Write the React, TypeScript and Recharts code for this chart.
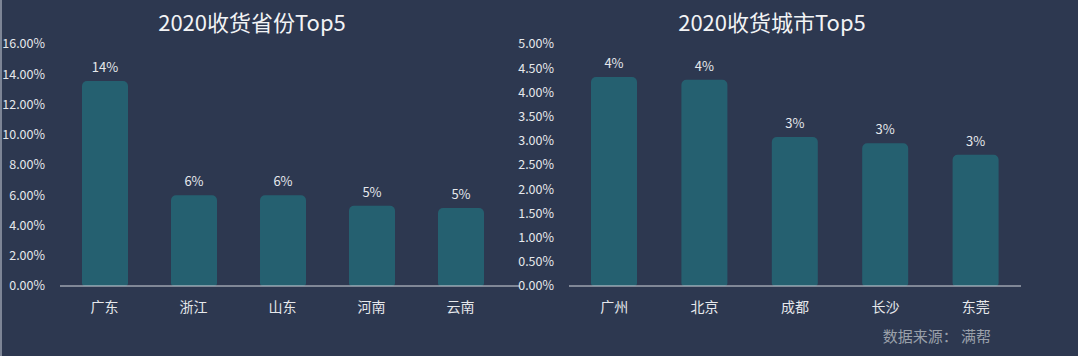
import { BarChart, Bar, XAxis, YAxis, LabelList } from 'recharts';

const provinces = ['广东', '浙江', '山东', '河南', '云南'];
const provinceShares = [13.55, 6.0, 6.0, 5.3, 5.15];
const provinceTicks = [0, 2, 4, 6, 8, 10, 12, 14, 16];

const cities = ['广州', '北京', '成都', '长沙', '东莞'];
const cityShares = [4.32, 4.26, 3.08, 2.95, 2.71];
const cityTicks = [0, 0.5, 1, 1.5, 2, 2.5, 3, 3.5, 4, 4.5, 5];

const BG = '#2d3850';
const BAR = '#256070';
const TEXT = '#e6e8ec';
const FONT = '"Noto Sans CJK SC", "Noto Sans", sans-serif';

const provinceData = provinces.map((name, i) => ({ name, value: provinceShares[i] }));
const cityData = cities.map((name, i) => ({ name, value: cityShares[i] }));

const pct2 = (v: number) => `${v.toFixed(2)}%`;
const pct0 = (v: number) => `${Math.round(v)}%`;

interface PanelProps {
  data: { name: string; value: number }[];
  ticks: number[];
  max: number;
  width: number;
  padRight: number;
}

function Panel({ data, ticks, max, width, padRight }: PanelProps) {
  return (
    <BarChart
      width={width}
      height={356}
      data={data}
      margin={{ top: 44, right: 10, left: 0, bottom: 40 }}
      style={{ fontFamily: FONT }}
    >
      <XAxis
        dataKey="name"
        height={30}
        tickLine={false}
        axisLine={{ stroke: '#d4d7dd', strokeWidth: 1 }}
        tick={{ fill: TEXT, fontSize: 14 }}
        tickMargin={10}
        padding={{ left: 0, right: padRight }}
      />
      <YAxis
        width={60}
        domain={[0, max]}
        ticks={ticks}
        tickFormatter={pct2}
        axisLine={false}
        tickLine={false}
        tickMargin={9}
        tick={{ fill: TEXT, fontSize: 12.5 }}
        interval={0}
      />
      <Bar dataKey="value" fill={BAR} barSize={46} radius={[5, 5, 3, 3]} isAnimationActive={false}>
        <LabelList dataKey="value" position="top" offset={9} formatter={pct0} fill={TEXT} fontSize={13} />
      </Bar>
    </BarChart>
  );
}

export default function App() {
  return (
    <div
      style={{
        position: 'fixed',
        left: 0,
        top: 0,
        width: 1078,
        height: 356,
        background: BG,
        fontFamily: FONT,
        overflow: 'hidden',
      }}
    >
      <div style={{ position: 'absolute', left: 0, top: 0, width: 2, height: 356, background: '#7d8596' }} />
      <div style={{ position: 'absolute', left: 0, top: 0 }}>
        <Panel data={provinceData} ticks={provinceTicks} max={16} width={530} padRight={15} />
      </div>
      <div style={{ position: 'absolute', left: 509, top: 0 }}>
        <Panel data={cityData} ticks={cityTicks} max={5} width={522} padRight={0} />
      </div>
      <div
        style={{
          position: 'absolute',
          left: 52,
          width: 400,
          top: 6,
          textAlign: 'center',
          color: '#f2f3f5',
          fontSize: 22,
          lineHeight: '30px',
        }}
      >
        2020收货省份Top5
      </div>
      <div
        style={{
          position: 'absolute',
          left: 572,
          width: 400,
          top: 6,
          textAlign: 'center',
          color: '#f2f3f5',
          fontSize: 22,
          lineHeight: '30px',
        }}
      >
        2020收货城市Top5
      </div>
      <div
        style={{
          position: 'absolute',
          right: 1078 - 991,
          top: 325,
          color: '#9aa0aa',
          fontSize: 15,
          lineHeight: '22px',
        }}
      >
        数据来源： 满帮
      </div>
    </div>
  );
}
